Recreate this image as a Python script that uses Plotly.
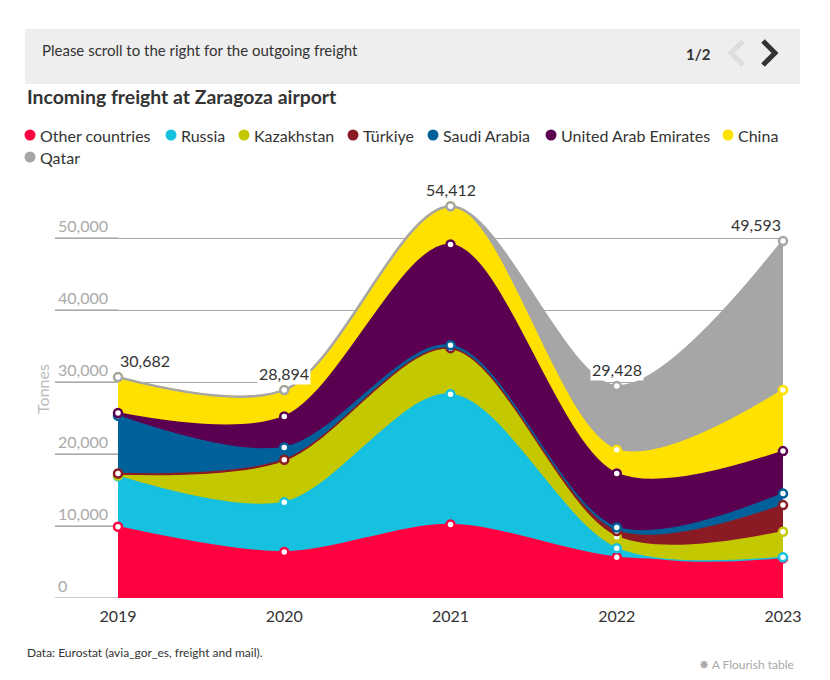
import plotly.graph_objects as go

# ---------------- data ----------------
years = [2019, 2020, 2021, 2022, 2023]
series_names = ["Other countries", "Russia", "Kazakhstan", "Türkiye", "Saudi Arabia",
                "United Arab Emirates", "China", "Qatar"]
other_countries = [9900, 6400, 10200, 5650, 5500]
russia = [7000, 6900, 18100, 1250, 150]
kazakhstan = [100, 5600, 6200, 1600, 3550]
turkiye = [300, 300, 200, 800, 3700]
saudi_arabia = [8000, 1700, 400, 500, 1600]
uae = [400, 4300, 14000, 7500, 5900]
china = [4982, 3694, 5312, 3278, 8493]
qatar = [0, 0, 0, 8850, 20700]
y_ticks = [0, 10000, 20000, 30000, 40000, 50000]

series_values = [other_countries, russia, kazakhstan, turkiye, saudi_arabia, uae, china, qatar]
colors = ["#ff0040", "#16c0df", "#c4c800", "#8a1b24", "#00609a", "#5b0050", "#ffe100", "#a6a6a6"]

FONT = "Lato"
OFF = 8  # page body margin
W, H = 814, 664
# plot area in reference-page pixels
PL, PR, PT, PB = 55, 783, 180, 598
L, R, T, B = PL - OFF, W - (PR - OFF), PT - OFF, H - (PB - OFF)
PW, PH = W - L - R, H - T - B


def px(x):
    return (x - PL) / PW


def py(y):
    return (PB - y) / PH


x_left = 2019 - (118 - PL) / ((PR - 118) / 4)

fig = go.Figure()
for name, vals, col in zip(series_names, series_values, colors):
    fig.add_trace(go.Scatter(
        x=years, y=vals, name=name, stackgroup="one", mode="lines+markers",
        line=dict(color=col, width=2.5 if name == "Qatar" else 1.5, shape="spline", smoothing=0.9),
        fillcolor=col,
        marker=dict(size=8, color="white", line=dict(color=col, width=2.5)),
        cliponaxis=False, showlegend=False, hoverinfo="skip",
    ))

totals = [sum(v[i] for v in series_values) for i in range(len(years))]
for i, (yr, tot) in enumerate(zip(years, totals)):
    anchor = "left" if i == 0 else ("right" if i == len(years) - 1 else "center")
    fig.add_annotation(x=yr, y=tot, xref="x", yref="y", text=f"{tot:,}", showarrow=False,
                       xanchor=anchor, yanchor="bottom", yshift=5,
                       font=dict(family=FONT, size=16, color="#333"),
                       bgcolor="white", borderpad=1)

shapes = []
for t in y_ticks:
    shapes.append(dict(type="line", xref="x", yref="y", x0=x_left, x1=2019, y0=t, y1=t,
                       line=dict(color="#cccccc", width=2), layer="below"))
shapes.append(dict(type="rect", xref="paper", yref="paper", x0=px(25), x1=px(800), y0=py(84), y1=py(29),
                   fillcolor="#eeeeee", line=dict(width=0), layer="below"))
shapes.append(dict(type="path", xref="paper", yref="paper",
                   path=f"M {px(743)} {py(41)} L {px(731)} {py(53)} L {px(743)} {py(65)}",
                   line=dict(color="#dddddd", width=5)))
shapes.append(dict(type="path", xref="paper", yref="paper",
                   path=f"M {px(763)} {py(41)} L {px(775)} {py(53)} L {px(763)} {py(65)}",
                   line=dict(color="#333333", width=5)))

legend_pos = [(30, 135), (171, 135), (244, 135), (353, 135), (433, 135), (551, 135), (728, 135), (30, 157)]
for (lx, ly), name, col in zip(legend_pos, series_names, colors):
    r = 5.5
    shapes.append(dict(type="circle", xref="paper", yref="paper", x0=px(lx - r), x1=px(lx + r),
                       y0=py(ly + r), y1=py(ly - r), fillcolor=col, line=dict(width=0)))
    fig.add_annotation(x=px(lx + 8), y=py(ly), xref="paper", yref="paper", text=name, showarrow=False,
                       xanchor="left", yanchor="middle", font=dict(family=FONT, size=16, color="#333"))

fig.add_annotation(x=px(40), y=py(50), xref="paper", yref="paper",
                   text="Please scroll to the right for the outgoing freight", showarrow=False,
                   xanchor="left", yanchor="middle", font=dict(family=FONT, size=15, color="#333"))
fig.add_annotation(x=px(713), y=py(54), xref="paper", yref="paper", text="<b>1/2</b>", showarrow=False,
                   xanchor="right", yanchor="middle", font=dict(family=FONT, size=15, color="#333"))
fig.add_annotation(x=px(25), y=py(97), xref="paper", yref="paper",
                   text="<b>Incoming freight at Zaragoza airport</b>", showarrow=False,
                   xanchor="left", yanchor="middle", font=dict(family=FONT, size=19.4, color="#333"))
fig.add_annotation(x=px(25), y=py(652), xref="paper", yref="paper",
                   text="Data: Eurostat (avia_gor_es, freight and mail).", showarrow=False,
                   xanchor="left", yanchor="middle", font=dict(family=FONT, size=12, color="#333"))
fig.add_annotation(x=px(796), y=py(664), xref="paper", yref="paper",
                   text="✹ A Flourish table", showarrow=False,
                   xanchor="right", yanchor="middle", font=dict(family=FONT, size=12, color="#aaaaaa"))

fig.update_layout(
    width=W, height=H, margin=dict(l=L, r=R, t=T, b=B),
    paper_bgcolor="white", plot_bgcolor="white",
    font=dict(family=FONT, color="#333"),
    shapes=shapes,
    xaxis=dict(range=[x_left, 2023], tickvals=years, ticktext=[str(y) for y in years],
               showgrid=False, zeroline=False, showline=False, ticks="", ticklabelstandoff=7,
               tickfont=dict(family=FONT, size=16, color="#333"), fixedrange=True),
    yaxis=dict(range=[0, (PB - PT) / 7.2 * 1000], tickvals=y_ticks, tickformat=",",
               ticklabelposition="inside top", ticklabelstandoff=0,
               showgrid=True, gridcolor="#a8a8a8", gridwidth=1, zeroline=False, showline=False,
               tickfont=dict(family=FONT, size=16, color="#aaaaaa"),
               title=dict(text="Tonnes", font=dict(family=FONT, size=16, color="#bbbbbb"), standoff=4),
               fixedrange=True),
)

fig.write_html("out.html")
